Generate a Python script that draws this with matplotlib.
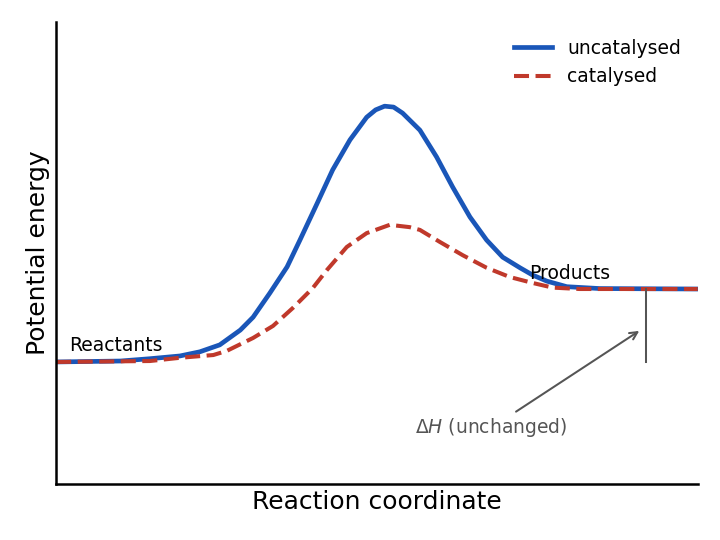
import matplotlib
matplotlib.use("Agg")
import matplotlib.pyplot as plt

# pontos (coordenada de reação, energia)
x_uncat = [0.0, 1.00, 1.46, 1.93, 2.24, 2.55, 2.87, 3.07, 3.33, 3.60, 3.80, 4.07, 4.31,
           4.58, 4.84, 4.98, 5.12, 5.26, 5.40, 5.67, 5.93, 6.18, 6.45, 6.71, 6.96, 7.23,
           7.43, 7.65, 7.96, 8.47, 10.0]
y_uncat = [2.64, 2.66, 2.71, 2.77, 2.86, 3.01, 3.33, 3.61, 4.13, 4.70, 5.28, 6.08, 6.80,
           7.45, 7.94, 8.10, 8.18, 8.16, 8.03, 7.66, 7.08, 6.43, 5.78, 5.28, 4.91, 4.68,
           4.52, 4.39, 4.27, 4.23, 4.22]

x_cat = [0.0, 1.46, 1.93, 2.45, 2.66, 3.07, 3.38, 3.69, 4.00, 4.22, 4.53, 4.84, 5.20,
         5.51, 5.67, 5.98, 6.34, 6.71, 7.07, 7.43, 7.74, 8.16, 10.0]
y_cat = [2.64, 2.66, 2.73, 2.79, 2.88, 3.16, 3.42, 3.81, 4.24, 4.63, 5.13, 5.43, 5.61,
         5.56, 5.50, 5.24, 4.95, 4.68, 4.48, 4.35, 4.25, 4.22, 4.22]

reactant_level = 2.64
product_level = 4.22
dh_x = 9.19

fig = plt.figure(figsize=(6.4, 4.8), dpi=112.5)
ax = fig.add_axes([0.078, 0.104, 0.891, 0.855])

ax.plot(x_uncat, y_uncat, color="#1a56b8", lw=3, label="uncatalysed", solid_joinstyle="round")
ax.plot(x_cat, y_cat, color="#c0392b", lw=2.6, ls="--", label="catalysed")

ax.text(0.2, reactant_level + 0.35, "Reactants", fontsize=12, va="center")
ax.text(7.38, product_level + 0.33, "Products", fontsize=12, va="center")

ax.plot([dh_x, dh_x], [reactant_level, product_level], color="#555555", lw=1.3)
ax.annotate(r"$\Delta H$ (unchanged)", xy=(9.13, 3.35), xytext=(6.78, 1.21),
            fontsize=12, color="#555555", ha="center", va="center",
            arrowprops=dict(arrowstyle="->", color="#555555", lw=1.3))

ax.set_xlim(0, 10)
ax.set_ylim(0, 10)
ax.set_xticks([])
ax.set_yticks([])
for s in ["top", "right"]:
    ax.spines[s].set_visible(False)
for s in ["left", "bottom"]:
    ax.spines[s].set_linewidth(1.6)
ax.set_xlabel("Reaction coordinate", fontsize=16)
ax.set_ylabel("Potential energy", fontsize=16)
ax.legend(loc="upper right", frameon=False, fontsize=12)

fig.savefig("out.png", dpi=112.5)
